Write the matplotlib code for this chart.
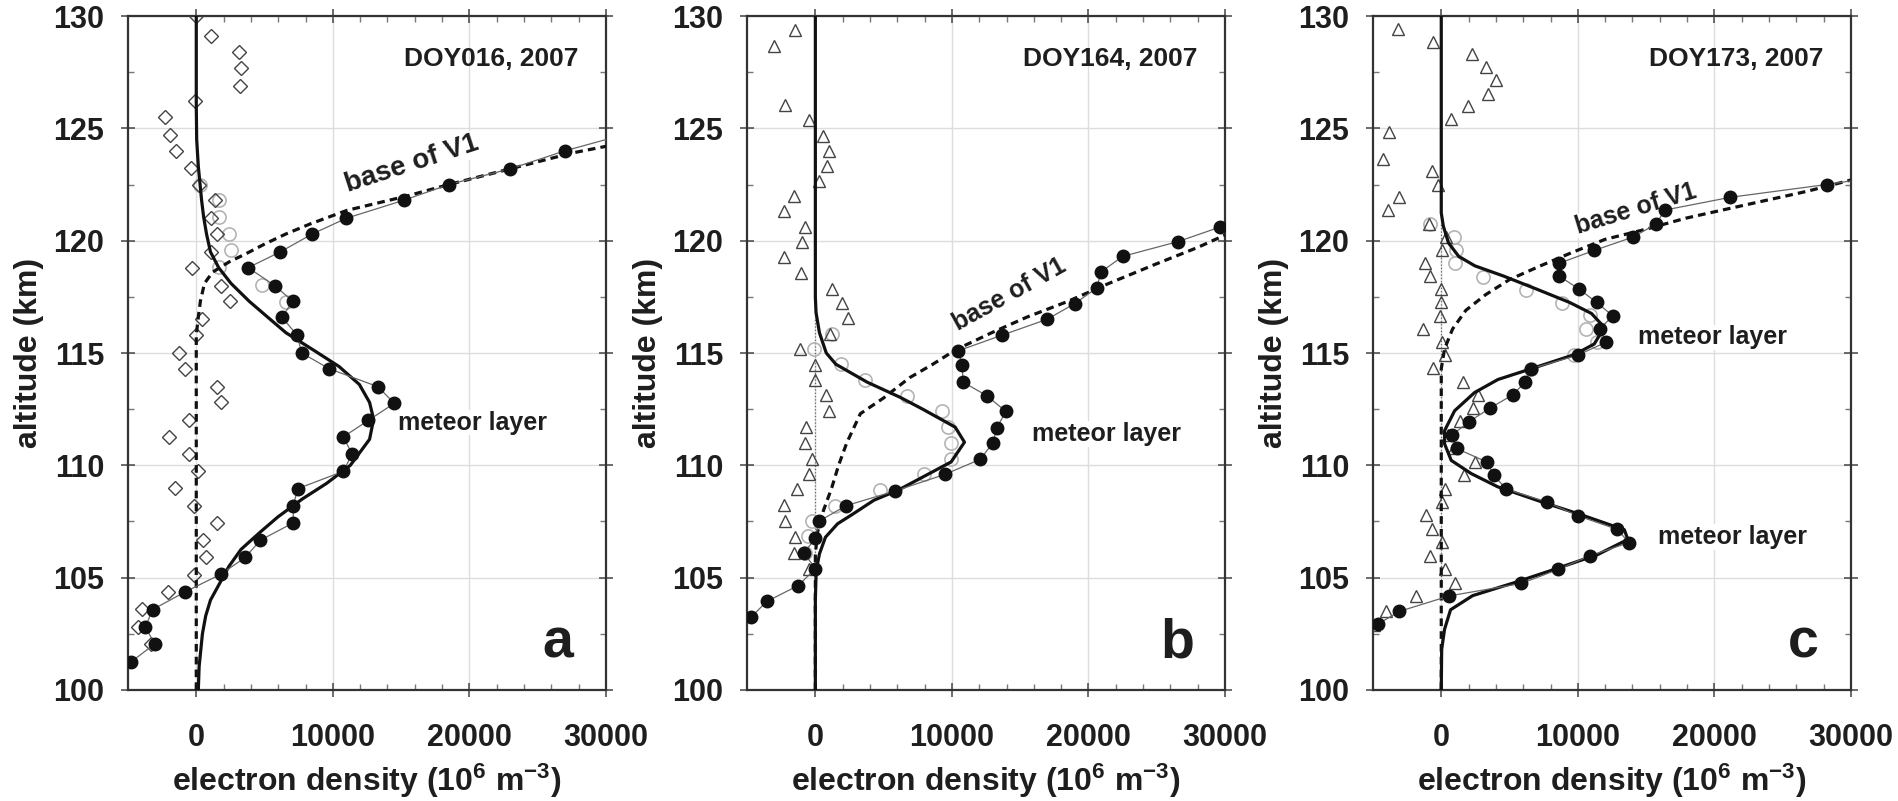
import matplotlib
matplotlib.use('Agg')
from matplotlib import pyplot as plt
from matplotlib.ticker import FixedLocator
import numpy as np

# ---- panel a: DOY016 ----
a_dot_alt = [124.75, 124.0, 123.2, 122.5, 121.8, 121.0, 120.3, 119.5, 118.8, 118.0, 117.3, 116.6, 115.8,
             115.0, 114.3, 113.5, 112.76, 112.0, 111.26, 110.5, 109.73, 108.96, 108.2, 107.44, 106.67,
             105.9, 105.16, 104.37, 103.58, 102.8, 102.05, 101.25]
a_dot_ne = [31500, 27000, 23000, 18500, 15200, 11000, 8500, 6150, 3800, 5750, 7070, 6270, 7370, 7730, 9730,
            13300, 14500, 12600, 10750, 11430, 10750, 7430, 7100, 7100, 4700, 3580, 1820, -800, -3200,
            -3730, -3040, -4780]
a_circ_alt = [122.5, 121.8, 121.05, 120.3, 119.57, 118.83, 118.04, 117.27]
a_circ_ne = [300, 1640, 1640, 2400, 2540, 1640, 4780, 6570]
a_open_alt = [130, 129.1, 128.4, 127.7, 126.9, 126.2, 125.5, 124.7, 124.0, 123.25, 122.5, 121.8, 121.0,
              120.3, 119.5, 118.8, 118.0, 117.3, 116.5, 115.8, 115.0, 114.3, 113.5, 112.8, 112.0, 111.26,
              110.5, 109.75, 108.97, 108.2, 107.44, 106.67, 105.9, 105.14, 104.37, 103.6, 102.8, 102.05]
a_open_ne = [0, 1050, 3130, 3280, 3220, -90, -2300, -1940, -1500, -390, 200, 1400, 1050, 1550, 1050,
             -300, 1800, 2480, 450, 0, -1280, -840, 1500, 1820, -500, -2030, -500, 120, -1580, -200,
             1490, 500, 690, -150, -2090, -3970, -4270, -3340]
a_fit_alt = [100, 101.05, 102.5, 103.3, 104.0, 105.0, 105.5, 106.26, 107.0, 107.7, 108.5, 109.2, 110.0,
             111.16, 112.05, 112.8, 113.6, 114.4, 115.1, 115.9, 116.6, 117.3, 118.1, 118.8, 119.5, 120.3,
             121.05, 121.8, 123.3, 124.5, 126, 130]
a_fit_ne = [150, 210, 450, 690, 1040, 1940, 2390, 3280, 4630, 5970, 7760, 9550, 11280, 12690, 12985,
            12690, 11940, 10450, 8660, 6570, 5220, 3880, 2540, 1640, 1040, 750, 540, 390, 150, 30, 0, 0]
a_v1_alt = [100, 115.8, 116.6, 117.3, 118.1, 118.6, 119.05, 119.4, 119.87, 120.3, 120.75, 121.35, 122.0,
            122.5, 123.2, 123.9, 124.2]
a_v1_ne = [0, 0, 150, 300, 600, 1200, 2390, 3580, 5070, 6570, 8360, 11040, 15500, 18500, 23000, 27500, 30000]

# ---- panel b: DOY164 ----
b_dot_alt = [120.6, 119.96, 119.3, 118.6, 117.9, 117.2, 116.5, 115.8, 115.1, 114.45, 113.7, 113.1, 112.4,
             111.67, 111.0, 110.27, 109.6, 108.86, 108.2, 107.5, 106.75, 106.1, 105.4, 104.65, 103.94, 103.25]
b_dot_ne = [29600, 26560, 22500, 20900, 20620, 19000, 16970, 13700, 10470, 10740, 10830, 12550, 13950,
            13290, 13000, 12080, 9500, 5850, 2230, 240, 0, -830, 0, -1250, -3560, -4690]
b_circ_alt = [115.85, 115.2, 114.5, 113.8, 113.1, 112.4, 111.7, 111.0, 110.3, 109.6, 108.9, 108.2, 107.5,
              106.85, 106.1]
b_circ_ne = [1250, -100, 1900, 3630, 6700, 9300, 9730, 9960, 9900, 7930, 4760, 1450, -240, -540, -740]
b_open_alt = [129.36, 128.67, 126.04, 125.35, 124.68, 124.0, 123.34, 122.64, 121.98, 121.31, 120.6, 119.96,
              119.28, 118.58, 117.87, 117.22, 116.54, 115.85, 115.18, 114.48, 113.78, 113.12, 112.44, 111.7,
              111.0, 110.3, 109.63, 108.94, 108.23, 107.53, 106.82, 106.1, 105.39]
b_open_ne = [-1480, -3060, -2230, -450, 590, 980, 830, 300, -1540, -2280, -740, -980, -2280, -1040, 1190,
             1930, 2370, 1040, -1100, -60, -60, 800, 980, -650, -740, -210, -450, -1340, -2310, -2230,
             -1480, -1540, -450]
b_fit_alt = [100, 104, 105.3, 106.06, 106.8, 107.4, 107.8, 108.45, 108.9, 110.15, 111.03, 111.7, 112.5,
             113.03, 113.7, 114.5, 115.0, 115.9, 116.8, 117.5, 130]
b_fit_ne = [0, 0, 60, 300, 740, 1630, 2670, 4300, 6080, 9940, 10920, 10240, 7860, 6200, 3800, 1500, 800,
            300, 50, 0, 0]
b_v1_alt = [100, 106, 107, 108.0, 109.0, 110.0, 111.0, 112.3, 113.0, 113.9, 114.5, 115.15, 115.9, 116.6,
            117.3, 118.1, 118.95, 119.7, 120.25]
b_v1_ne = [0, 0, 150, 600, 1200, 1700, 2300, 3300, 5000, 6900, 8600, 10300, 12900, 15500, 18500, 21500,
           24900, 28000, 30000]
b_zero_alt = [105.4, 116.6]

# ---- panel c: DOY173 ----
c_dot_alt = [122.8, 122.5, 121.93, 121.36, 120.75, 120.16, 119.57, 119.0, 118.43, 117.84, 117.25, 116.66,
             116.07, 115.48, 114.9, 114.3, 113.7, 113.14, 112.55, 111.93, 111.34, 110.75, 110.15, 109.57,
             108.94, 108.37, 107.75, 107.15, 106.56, 105.97, 105.37, 104.74, 104.19, 103.5, 102.94]
c_dot_ne = [31500, 28220, 21160, 16350, 15760, 14040, 11220, 8650, 8620, 10100, 11380, 12550, 11620,
            12060, 9980, 6580, 6130, 5240, 3580, 2000, 780, 1120, 3330, 3840, 4750, 7740, 10020, 12880,
            13750, 10860, 8580, 5860, 600, -3060, -4620]
c_circ_alt = [120.75, 120.18, 119.6, 119.02, 118.4, 117.82, 117.22, 116.68, 116.07, 115.5, 114.93, 114.3]
c_circ_ne = [-800, 900, 1100, 1030, 3050, 6200, 8840, 10860, 10620, 11400, 9720, 6570]
c_open_alt = [129.4, 128.85, 128.29, 127.74, 127.15, 126.53, 126.0, 125.4, 124.83, 123.63, 123.09, 122.5,
              121.95, 121.36, 120.75, 120.18, 119.6, 119.0, 118.43, 117.84, 117.25, 116.66, 116.07,
              115.48, 114.89, 114.32, 113.73, 113.13, 112.55, 111.96, 111.34, 110.75, 110.15, 109.56,
              108.95, 108.36, 107.79, 107.18, 106.58, 105.97, 105.37, 104.77, 104.17, 103.53, 102.9]
c_open_ne = [-3180, -590, 2230, 3290, 4000, 3440, 1930, 680, -3830, -4300, -710, -210, -3120, -3920, -890,
             330, 30, -1160, -800, 0, 0, -60, -1340, 90, 240, -620, 1600, 2680, 2300, 1400, 500, 900,
             2440, 1690, 310, 60, -1150, -680, 20, -850, 310, 1000, -1820, -4030, -4910]
c_fit_alt = [100, 101.8, 102.7, 103.57, 104.2, 104.78, 105.37, 106.03, 106.7, 107.13, 107.8, 108.38,
             109.04, 109.63, 110.22, 110.96, 111.54, 112.43, 113.24, 113.82, 114.3, 114.93, 115.4, 115.9,
             116.3, 116.76, 117.25, 117.84, 118.43, 118.88, 119.3, 119.9, 120.65, 121.24, 130]
c_fit_ne = [0, 30, 240, 680, 2300, 5370, 8290, 11460, 13660, 13410, 10240, 7320, 4150, 2200, 730, 240,
            240, 980, 2440, 4150, 6590, 9760, 11200, 11700, 11700, 11000, 9400, 7000, 4540, 2460, 1280,
            530, 150, 0, 0]
c_v1_alt = [100, 114.3, 115.18, 116.07, 116.9, 117.6, 118.27, 118.89, 119.48, 120.06, 120.5, 121.0, 121.6,
            122.2, 122.7]
c_v1_ne = [0, 0, 240, 830, 1800, 3260, 5000, 7300, 9600, 12000, 14930, 17900, 22340, 26800, 30000]
c_zero_alt = [104.9, 120.8]

titles = ['DOY016, 2007', 'DOY164, 2007', 'DOY173, 2007']
letters = ['a', 'b', 'c']
xticks = [0, 10000, 20000, 30000]
yticks = [100, 105, 110, 115, 120, 125, 130]

plt.rcParams['font.family'] = ['Liberation Sans', 'DejaVu Sans']
plt.rcParams['font.weight'] = 'bold'
plt.rcParams['axes.labelweight'] = 'bold'
plt.rcParams['mathtext.default'] = 'regular'

ink = '#1e1e1e'
fig = plt.figure(figsize=(18.99, 8.01), dpi=100)
lefts = [0.0674, 0.3934, 0.7230]

panels = [
    dict(dot=(a_dot_ne, a_dot_alt), circ=(a_circ_ne, a_circ_alt), open=(a_open_ne, a_open_alt), mk='D',
         fit=(a_fit_ne, a_fit_alt), v1=(a_v1_ne, a_v1_alt), zero=None,
         v1txt=(15800, 123.4, 18, 20), meteor=[(14780, 111.9, 18)]),
    dict(dot=(b_dot_ne, b_dot_alt), circ=(b_circ_ne, b_circ_alt), open=(b_open_ne, b_open_alt), mk='^',
         fit=(b_fit_ne, b_fit_alt), v1=(b_v1_ne, b_v1_alt), zero=b_zero_alt,
         v1txt=(14240, 117.6, 29, 18), meteor=[(15870, 111.4, 18)]),
    dict(dot=(c_dot_ne, c_dot_alt), circ=(c_circ_ne, c_circ_alt), open=(c_open_ne, c_open_alt), mk='^',
         fit=(c_fit_ne, c_fit_alt), v1=(c_v1_ne, c_v1_alt), zero=c_zero_alt,
         v1txt=(14270, 121.4, 17, 18), meteor=[(14390, 115.7, 18), (15900, 106.8, 18)]),
]

for i, p in enumerate(panels):
    ax = fig.add_axes([lefts[i], 0.1386, 0.2517, 0.8414])
    ax.set_axisbelow(True)
    ax.grid(True, which='major', color='#dddddd', lw=1.0)

    if p['zero'] is not None:
        ax.plot([0, 0], p['zero'], ls=':', color='#666666', lw=0.9, zorder=2)
    ax.plot(*p['circ'], 'o', mfc='none', mec='#b4b4b4', ms=9.5, mew=1.2, zorder=2)
    ms = 7 if p['mk'] == 'D' else 8.5
    ax.plot(*p['open'], p['mk'], mfc='none', mec='#444444', ms=ms, mew=1.0, zorder=3)
    ax.plot(*p['v1'], color='#111111', lw=2.3, dashes=(2.4, 1.6), zorder=4)
    ax.plot(*p['fit'], color='#111111', lw=2.3, zorder=4)
    ax.plot(*p['dot'], '-o', color='#666666', lw=0.9, mfc='#111111', mec='#111111', ms=9, zorder=5)

    ax.set_xlim(-5000, 30000)
    ax.set_ylim(100, 130)
    ax.xaxis.set_major_locator(FixedLocator(xticks))
    ax.xaxis.set_minor_locator(FixedLocator([v for v in range(2000, 30000, 2000) if v % 10000]))
    ax.yaxis.set_major_locator(FixedLocator(yticks))
    ax.yaxis.set_minor_locator(FixedLocator([102.5, 107.5, 112.5, 117.5, 122.5, 127.5]))
    ax.tick_params(which='major', direction='inout', length=10, width=1.1, color='#444444',
                   labelsize=22, labelcolor=ink, top=True, right=True)
    ax.tick_params(which='minor', direction='in', length=4, width=1.0, color='#777777', top=True, right=True)
    ax.tick_params(axis='y', which='major', pad=12)
    ax.tick_params(axis='x', which='major', pad=19)
    for s in ax.spines.values():
        s.set_linewidth(1.6)
        s.set_color('#333333')

    ax.set_xlabel('electron density (10$^{6}$ m$^{-3}$)', fontsize=23, color=ink)
    ax.set_ylabel('altitude (km)', fontsize=23, color=ink)
    ax.xaxis.set_label_coords(0.5, -0.135)
    ax.xaxis.label.set_verticalalignment('center')
    ax.yaxis.set_label_coords(-0.175, 0.5)

    ax.text(28000, 128.1, titles[i], fontsize=19, ha='right', va='center', color=ink)
    vx, vy, rot, fs = p['v1txt']
    ax.text(vx, vy, 'base of V1', fontsize=fs, rotation=rot, ha='center', va='center', color=ink,
            rotation_mode='anchor', bbox=dict(fc='white', ec='none', pad=0.5), zorder=3)
    for mx, my, fs in p['meteor']:
        ax.text(mx, my, 'meteor layer', fontsize=fs, ha='left', va='center', color=ink,
                bbox=dict(fc='white', ec='none', pad=0.5), zorder=3)
    ax.text(26500, 101.45, letters[i], fontsize=40, ha='center', va='baseline', color=ink)

fig.savefig('out.png', dpi=100)
